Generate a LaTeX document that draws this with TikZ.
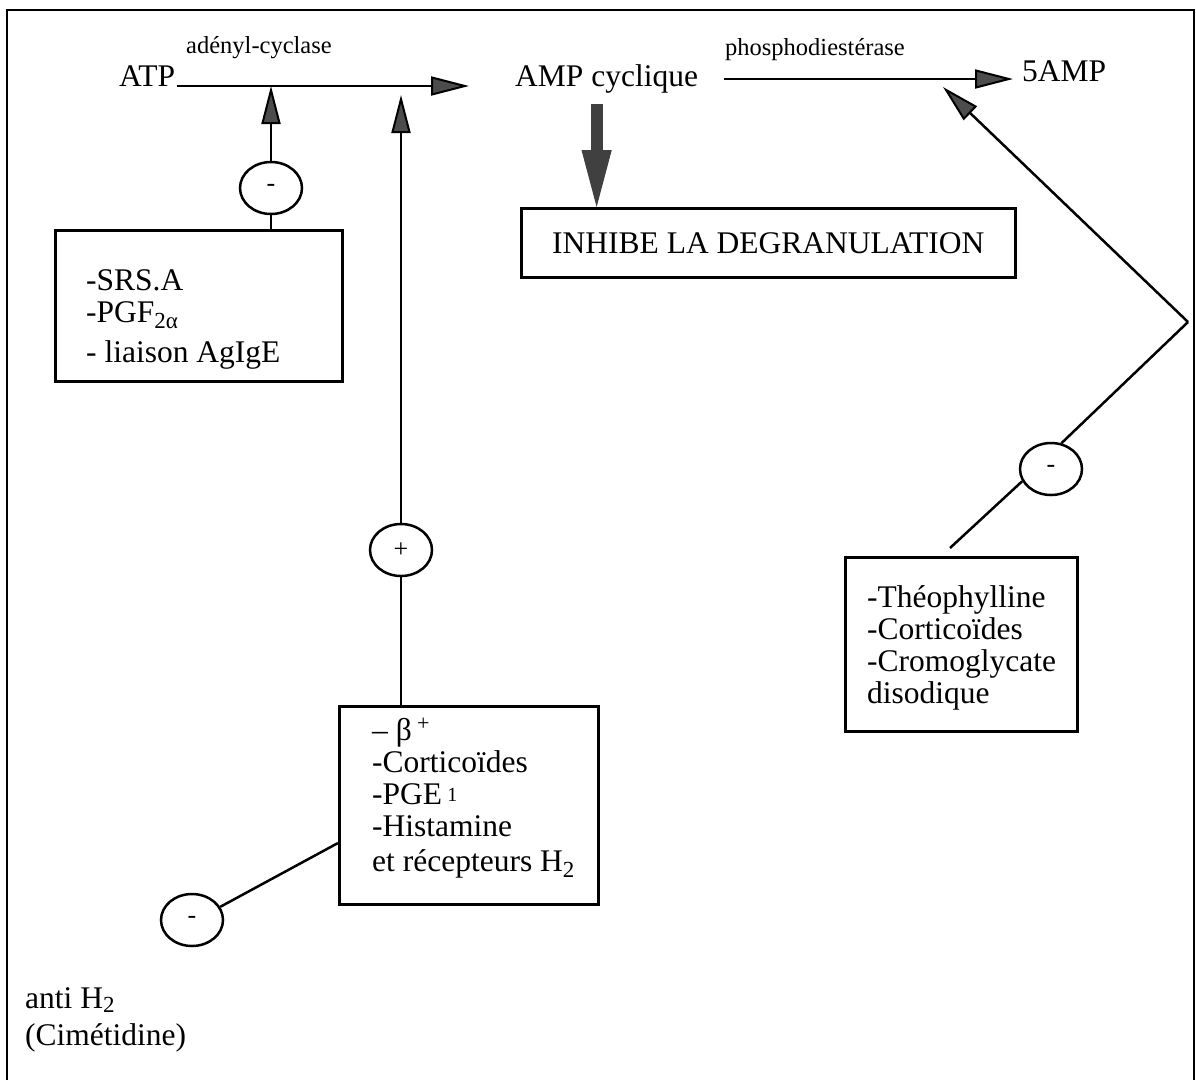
\documentclass[tikz,border=0pt]{standalone}
\usepackage{fontspec}
\setmainfont{Liberation Serif}
\usetikzlibrary{arrows.meta,shapes.geometric}
\newcommand{\mainsize}{\fontsize{31.5}{32}\selectfont}
\newcommand{\enzsize}{\fontsize{24.5}{25}\selectfont}
\newcommand{\lowsub}[2][-6pt]{\raisebox{#1}{\fontsize{23}{23}\selectfont #2}}
\tikzset{
  lbl/.style={inner sep=0pt, anchor=base west, font=\mainsize},
  enz/.style={inner sep=0pt, anchor=base west, font=\enzsize},
  box/.style={draw, line width=2.5pt, inner sep=0pt, anchor=north west, font=\mainsize},
  sign/.style={draw, ellipse, line width=2.5pt, minimum width=62pt, minimum height=52pt, inner sep=0pt, font=\fontsize{26}{26}\selectfont},
  link/.style={line width=2.5pt},
  flow/.style={line width=2.5pt, -{Triangle[length=38pt, width=19pt, fill=black!70, line width=2pt]}},
  bigflow/.style={line width=12pt, draw=black!75, -{Triangle[length=57pt, width=30pt, line width=1pt]}},
}
\begin{document}
\begin{tikzpicture}[x=1pt, y=-1pt]
\useasboundingbox (0,0) rectangle (1196,1080);
\draw[line width=2.5pt] (7,1080) -- (7,10) -- (1194,10) -- (1194,1080);
\node[lbl] (atp) at (119,86){ATP};
\node[lbl] (amp) at (515,86){AMP cyclique};
\node[lbl] (pamp) at (1022,81){5AMP};
\node[enz] (adc) at (186,53){adényl-cyclase};
\node[enz] (pde) at (725,55){phosphodiestérase};
\node[box, minimum width=494pt, minimum height=69pt] (inhibe) at (520,207){INHIBE LA DEGRANULATION};
\draw[flow] ([xshift=2pt]atp.base east) -- ([xshift=-46pt]amp.base west);
\draw[flow] ([shift={(26pt,7pt)}]amp.base east) -- ([shift={(-9pt,2pt)}]pamp.base west);
\coordinate (bigtop) at ([shift={(-10pt,-11pt)}]amp.south);
\draw[bigflow] (bigtop) -- (bigtop |- inhibe.north);
% inhibiteurs de l'adenyl-cyclase
\coordinate (tipA) at (271,86);
\node[sign] (inhA) at (271,188){-};
\node[box, minimum width=287pt, minimum height=151pt] (srs) at (54,229){};
\node[lbl] (srstxt) at (86,290){\begin{tabular}[t]{@{}l@{}}-SRS.A\\-PGF\lowsub{2α}\\[8pt]- liaison AgIgE\end{tabular}};
\draw[flow] (inhA.north) -- (tipA);
\draw[link] (inhA.south) -- (inhA.south |- srs.north);
% activateurs
\coordinate (tipB) at (401,95);
\node[sign] (actB) at (401,550){+};
\node[box, minimum width=259pt, minimum height=198pt] (beta) at (338,705){};
\node[lbl] (betatxt) at (372,740){\begin{tabular}[t]{@{}l@{}}– β\,\textsuperscript{+}\\-Corticoïdes\\-PGE\,\raisebox{3pt}{\fontsize{20}{20}\selectfont 1}\\-Histamine\\[3pt]et récepteurs H\lowsub{2}\end{tabular}};
\draw[flow] (actB.north) -- (tipB);
\draw[link] (actB.south) -- (actB.south |- beta.north);
\node[sign] (inhD) at (192,920){-};
\node[lbl] (anti) at (25,1008){\begin{tabular}[t]{@{}l@{}}anti H\lowsub[-4pt]{2}\\[5pt](Cimétidine)\end{tabular}};
\draw[link] (inhD.25) -- ([yshift=-138pt]beta.north west);
% inhibiteurs de la phosphodiesterase
\coordinate (tipC) at (943,87);
\coordinate (corner) at (1188,322);
\node[sign] (inhC) at (1051,469){-};
\node[box, minimum width=232pt, minimum height=174pt] (theo) at (844,556){};
\node[lbl] (theotxt) at (867,607){\begin{tabular}[t]{@{}l@{}}-Théophylline\\-Corticoïdes\\-Cromoglycate\\disodique\end{tabular}};
\draw[flow] (corner) -- (tipC);
\draw[link] (corner) -- (inhC.68);
\draw[link] (inhC.203) -- ([shift={(106pt,8pt)}]theo.north west);
\end{tikzpicture}
\end{document}
